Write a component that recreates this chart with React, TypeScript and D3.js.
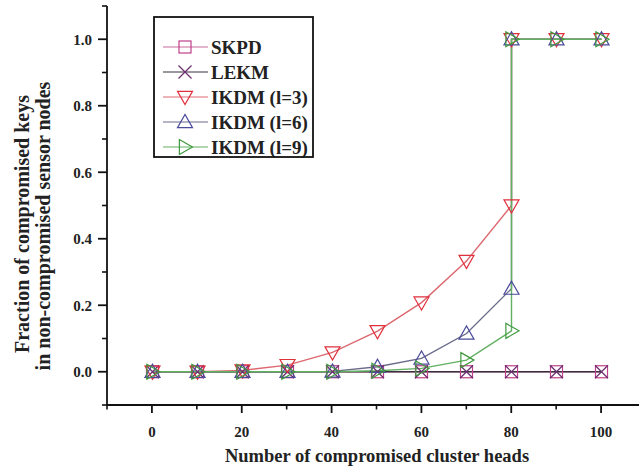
import * as d3 from 'd3';

const xs = [0, 10, 20, 30, 40, 50, 60, 70, 80, 90, 100];
const skpd = [0, 0, 0, 0, 0, 0, 0, 0, 0, 0, 0];
const lekm = [0, 0, 0, 0, 0, 0, 0, 0, 0, 0, 0];
// IKDM series jump to 1.0 at x=80 (two points at 80)
const ikdmX = [0, 10, 20, 30, 40, 50, 60, 70, 80, 80, 90, 100];
const ikdm3 = [0, 0, 0.004, 0.02, 0.058, 0.122, 0.208, 0.333, 0.5, 1, 1, 1];
const ikdm6 = [0, 0, 0, 0, 0.001, 0.015, 0.04, 0.115, 0.25, 1, 1, 1];
const ikdm9 = [0, 0, 0, 0, 0, 0.003, 0.01, 0.035, 0.123, 1, 1, 1];
const xTicks = [0, 20, 40, 60, 80, 100];
const yTicks = [0, 0.2, 0.4, 0.6, 0.8, 1.0];

const W = 639, H = 471;
const x = d3.scaleLinear().domain([-10, 110]).range([107, 646]);
const y = d3.scaleLinear().domain([-0.1, 1.1]).range([405, 6]);

type Shape = 'square' | 'x' | 'down' | 'up' | 'right';

const Marker = ({ cx, cy, shape, color }: { cx: number; cy: number; shape: Shape; color: string }) => {
    const s = 7.5;
    if (shape === 'square') {
        return <rect x={cx - 6} y={cy - 6} width={12} height={12} fill="none" stroke={color} strokeWidth={1.2} />;
    }
    if (shape === 'x') {
        return <path d={`M${cx - 6.5},${cy - 6.5}L${cx + 6.5},${cy + 6.5}M${cx - 6.5},${cy + 6.5}L${cx + 6.5},${cy - 6.5}`} stroke={color} strokeWidth={1.2} />;
    }
    let pts: [number, number][] = [];
    if (shape === 'down') pts = [[cx - s, cy - s * 0.75], [cx + s, cy - s * 0.75], [cx, cy + s]];
    if (shape === 'up') pts = [[cx - s, cy + s * 0.75], [cx + s, cy + s * 0.75], [cx, cy - s]];
    if (shape === 'right') pts = [[cx - s * 0.75, cy - s], [cx - s * 0.75, cy + s], [cx + s, cy]];
    return <polygon points={pts.map(p => p.join(',')).join(' ')} fill="none" stroke={color} strokeWidth={1.2} />;
};

const series = [
    { name: 'SKPD', xv: xs, yv: skpd, shape: 'square' as Shape, color: '#c0408a', line: '#c86a98' },
    { name: 'LEKM', xv: xs, yv: lekm, shape: 'x' as Shape, color: '#6a2d6e', line: '#3a3040' },
    { name: 'IKDM (l=3)', xv: ikdmX, yv: ikdm3, shape: 'down' as Shape, color: '#e0303c', line: '#dc6870' },
    { name: 'IKDM (l=6)', xv: ikdmX, yv: ikdm6, shape: 'up' as Shape, color: '#4a4a9a', line: '#6a6a8a' },
    { name: 'IKDM (l=9)', xv: ikdmX, yv: ikdm9, shape: 'right' as Shape, color: '#3f9a3f', line: '#62b062' },
];

const line = d3.line<[number, number]>().x(d => Math.round(x(d[0])) + 0.5).y(d => y(d[1]));

export default function App() {
    const serif = '"Liberation Serif", "Times New Roman", serif';
    const xMinor = d3.range(-10, 111, 10).filter(v => v % 20 !== 0);
    const yMinor = d3.range(-1, 12, 2).map(v => v / 10);
    const ax = x(-10);
    const ay = y(-0.1);
    return (
        <svg width={W} height={H} style={{ display: 'block', position: 'absolute', left: 0, top: 0, background: '#fff' }} fontFamily={serif}>
            <rect width={W} height={H} fill="#fff" />
            {/* series lines */}
            {series.map(s => (
                <path key={s.name} d={line(s.xv.map((v, i) => [v, s.yv[i]]) as [number, number][]) || ''} fill="none" stroke={s.line} strokeWidth={1.4} />
            ))}
            {/* markers */}
            {series.map(s => s.xv.map((v, i) => (
                <Marker key={s.name + i} cx={Math.round(x(v)) + 0.5} cy={y(s.yv[i])} shape={s.shape} color={s.color} />
            )))}
            {/* axes */}
            <line x1={ax} x2={ax} y1={y(1.1)} y2={ay} stroke="#111" strokeWidth={1.8} />
            <line x1={ax} x2={W} y1={ay} y2={ay} stroke="#111" strokeWidth={1.8} />
            {yTicks.map(t => (
                <g key={'y' + t}>
                    <line x1={ax - 9} x2={ax} y1={y(t)} y2={y(t)} stroke="#111" strokeWidth={1.8} />
                    <text x={ax - 15} y={y(t)} dy="0.35em" textAnchor="end" fontSize={15} fontWeight="bold" fill="#222">{t.toFixed(1)}</text>
                </g>
            ))}
            {yMinor.map(t => (
                <line key={'ym' + t} x1={ax - 5} x2={ax} y1={y(t)} y2={y(t)} stroke="#111" strokeWidth={1.6} />
            ))}
            {xTicks.map(t => (
                <g key={'x' + t}>
                    <line x1={x(t)} x2={x(t)} y1={ay} y2={ay + 8} stroke="#111" strokeWidth={1.8} />
                    <text x={x(t)} y={437} textAnchor="middle" fontSize={15} fontWeight="bold" fill="#222">{t}</text>
                </g>
            ))}
            {xMinor.map(t => (
                <line key={'xm' + t} x1={x(t)} x2={x(t)} y1={ay} y2={ay + 4.5} stroke="#111" strokeWidth={1.6} />
            ))}
            {/* axis titles */}
            <text x={377} y={462} textAnchor="middle" fontSize={18.5} fontWeight="bold" fill="#222">Number of compromised cluster heads</text>
            <text transform="translate(29,224) rotate(-90)" textAnchor="middle" fontSize={20} fontWeight="bold" fill="#222">Fraction of compromised keys</text>
            <text transform="translate(50,226) rotate(-90)" textAnchor="middle" fontSize={20} fontWeight="bold" fill="#222">in non-compromised sensor nodes</text>
            {/* legend */}
            <g>
                {series.map((s, i) => {
                    const ly = 47 + i * 25;
                    return (
                        <g key={'lg' + s.name}>
                            <line x1={163} x2={208} y1={ly} y2={ly} stroke={s.line} strokeWidth={1.2} />
                            <Marker cx={185} cy={ly} shape={s.shape} color={s.color} />
                            <text x={211} y={ly} dy="0.35em" fontSize={19} fontWeight="bold" fill="#222">{s.name}</text>
                        </g>
                    );
                })}
                <rect x={154} y={17} width={159} height={140} fill="none" stroke="#111" strokeWidth={1.8} />
            </g>
        </svg>
    );
}
